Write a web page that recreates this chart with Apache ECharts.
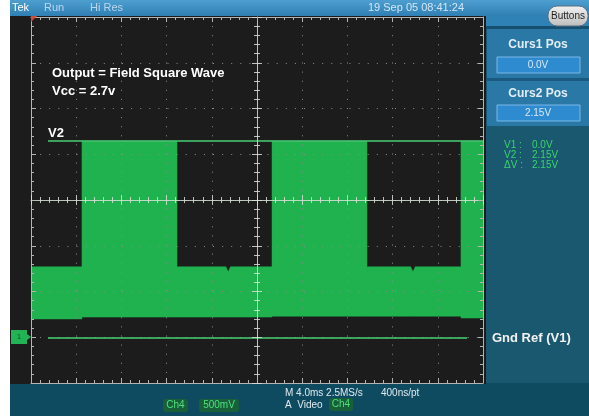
<!DOCTYPE html>
<html><head><meta charset="utf-8">
<script src="https://cdn.jsdelivr.net/npm/echarts@6/dist/echarts.min.js"></script>
<style>html,body{margin:0;padding:0;background:#fff;}#c{width:589px;height:417px;}</style>
</head><body><div id="c"></div>
<script>
// ---- data (time in ms, voltage in V) ----
const timeMs = [0, 4.51, 4.51, 12.92, 12.92, 17.25, 17.45, 17.65, 21.33, 21.33, 29.73, 29.73, 33.6, 33.8, 34.0, 38.05, 38.05, 40];
const upperV = [0.77, 0.77, 2.14, 2.14, 0.77, 0.77, 0.715, 0.77, 0.77, 2.14, 2.14, 0.77, 0.77, 0.715, 0.77, 0.77, 2.14, 2.14];
const lowerV = [0.20, 0.20, 0.22, 0.22, 0.22, 0.22, 0.22, 0.22, 0.22, 0.23, 0.23, 0.23, 0.23, 0.23, 0.23, 0.23, 0.21, 0.21];
const cursorNames = ['V1', 'V2'];
const cursorVolts = [0.0, 2.15];
const cursorStartMs = [1.5, 1.5];
const cursorEndMs = [38.6, 40];
const titleLines = ['Output = Field Square Wave', 'Vcc = 2.7v'];
const readoutLabels = ['V1 :', 'V2 :', '\u0394V :'];
const readoutValues = ['0.0V', '2.15V', '2.15V'];
const cursPosLabels = ['Curs1 Pos', 'Curs2 Pos'];
const cursPosValues = ['0.0V', '2.15V'];
const statusTop = ['Tek', 'Run', 'Hi Res'];
const dateText = '19 Sep 05 08:41:24';

const chart = echarts.init(document.getElementById('c'), null, {renderer: 'canvas'});
const GREEN = '#20b24f';
const EDGE = '#b4b4b4';
const CROSS = 'rgba(215,225,215,0.85)';
const DOT = '#8c8c8c';
const FONT = '"Liberation Sans", Arial, sans-serif';

function ax(dim, pos, offset, inside, lineShow, split, col) {
  const isX = dim === 'x';
  const c = col || EDGE;
  return {
    type: 'value', position: pos, offset: offset, z: 5,
    min: isX ? 0 : -0.5, max: isX ? 40 : 3.5, interval: isX ? 4 : 0.5,
    axisLabel: {show: false},
    axisLine: {show: lineShow, onZero: false, lineStyle: {color: c, width: 1, opacity: 1}},
    axisTick: {show: true, inside: inside, length: 5, lineStyle: {color: c, width: 1, opacity: 1}},
    minorTick: {show: true, splitNumber: 5, length: 3, lineStyle: {color: c, width: 1, opacity: 1}},
    splitLine: {show: split, lineStyle: {color: DOT, width: 1, type: [1, 8.1]}},
    minorSplitLine: {show: false},
    splitArea: {show: false}
  };
}

const T = (x, y, text, style) => ({type: 'text', x: x, y: y, z: 20, silent: true,
  style: Object.assign({text: text, font: '11px ' + FONT, fill: '#fff', textVerticalAlign: 'middle'}, style)});
const R = (x, y, w, h, fill, extra) => Object.assign({type: 'rect', z: -10, silent: true,
  shape: {x: x, y: y, width: w, height: h}, style: {fill: fill}}, extra || {});

const graphics = [
  R(10, 0, 579, 416, '#0f4b60'),
  R(485, 16, 104, 367, '#1a586f'),
  R(10, 0, 579, 16, {type: 'linear', x: 0, y: 0, x2: 0, y2: 1, colorStops: [{offset: 0, color: '#4e9fd0'}, {offset: 1, color: '#2f7fb4'}]}),
  R(485, 16, 104, 10, '#2f82b6'),
  R(485, 26, 104, 3, '#164f70'),
  R(487, 29, 102, 49, '#2a78a6'),
  R(487, 78, 102, 3, '#1a5a80'),
  R(487, 81, 102, 45, '#2a78a6'),
  R(10, 16, 476, 368, '#1c1c1c'),
  {type: 'rect', z: 15, silent: true, shape: {x: 548, y: 6, width: 40, height: 20, r: 9},
   style: {fill: {type: 'linear', x: 0, y: 0, x2: 0, y2: 1, colorStops: [{offset: 0, color: '#f2f2f2'}, {offset: 1, color: '#bcbcbc'}]}, stroke: '#5a6f80', lineWidth: 1}},
  T(568, 16, 'Buttons', {font: '10px ' + FONT, fill: '#1e1e1e', textAlign: 'center'}),
  T(12, 8, statusTop[0], {font: '11px ' + FONT, fill: '#ffffff'}),
  T(44, 8, statusTop[1], {font: '11px ' + FONT, fill: '#b9d6ee'}),
  T(90, 8, statusTop[2], {font: '11px ' + FONT, fill: '#b9d6ee'}),
  T(416, 8, dateText, {font: '11px ' + FONT, fill: '#d4e6f4', textAlign: 'center'}),
  T(538, 45, cursPosLabels[0], {font: 'bold 12px ' + FONT, fill: '#e3edf5', textAlign: 'center'}),
  {type: 'rect', z: 15, silent: true, shape: {x: 497, y: 57, width: 83, height: 16}, style: {fill: '#2f8bd0', stroke: '#7ab8e6', lineWidth: 1}},
  T(538, 65.5, cursPosValues[0], {font: '10px ' + FONT, fill: '#d8e8f6', textAlign: 'center'}),
  T(538, 94, cursPosLabels[1], {font: 'bold 12px ' + FONT, fill: '#e3edf5', textAlign: 'center'}),
  {type: 'rect', z: 15, silent: true, shape: {x: 497, y: 105, width: 83, height: 16}, style: {fill: '#2f8bd0', stroke: '#7ab8e6', lineWidth: 1}},
  T(538, 113.5, cursPosValues[1], {font: '10px ' + FONT, fill: '#d8e8f6', textAlign: 'center'}),
  ...readoutLabels.map((l, i) => T(504, 145 + i * 10, l, {font: '10px ' + FONT, fill: '#39d56a'})),
  ...readoutValues.map((v, i) => T(532, 145 + i * 10, v, {font: '10px ' + FONT, fill: '#39d56a'})),
  T(52, 73, titleLines[0], {font: 'bold 13px ' + FONT, fill: '#ffffff'}),
  T(52, 91, titleLines[1], {font: 'bold 13px ' + FONT, fill: '#ffffff'}),
  T(48, 133, cursorNames[1], {font: 'bold 13px ' + FONT, fill: '#ffffff'}),
  T(492, 338, 'Gnd Ref (V1)', {font: 'bold 13px ' + FONT, fill: '#f2f2f2'}),
  {type: 'rect', z: 15, silent: true, shape: {x: 11, y: 330, width: 16, height: 14}, style: {fill: '#22b454'}},
  T(19, 337, '1', {font: '8px ' + FONT, fill: '#0d5a2a', textAlign: 'center'}),
  {type: 'polygon', z: 15, silent: true, shape: {points: [[27, 334], [31, 337], [27, 340]]}, style: {fill: '#22b454'}},
  {type: 'polygon', z: 15, silent: true, shape: {points: [[31, 16], [37, 16], [31, 22]]}, style: {fill: '#d04a3a'}},
  {type: 'rect', z: 15, silent: true, shape: {x: 163, y: 399, width: 25, height: 13, r: 3}, style: {fill: '#17603a'}},
  T(175.5, 405.5, 'Ch4', {font: '10px ' + FONT, fill: '#4fe07c', textAlign: 'center'}),
  {type: 'rect', z: 15, silent: true, shape: {x: 199, y: 399, width: 40, height: 13, r: 3}, style: {fill: '#17603a'}},
  T(219, 405.5, '500mV', {font: '10px ' + FONT, fill: '#4fe07c', textAlign: 'center'}),
  T(285, 393, 'M 4.0ms 2.5MS/s', {font: '10px ' + FONT, fill: '#dfe9ef'}),
  T(381, 393, '400ns/pt', {font: '10px ' + FONT, fill: '#dfe9ef'}),
  T(285, 405, 'A  Video', {font: '10px ' + FONT, fill: '#dfe9ef'}),
  {type: 'rect', z: 15, silent: true, shape: {x: 329, y: 398, width: 24, height: 13, r: 3}, style: {fill: '#17603a'}},
  T(341, 404.5, 'Ch4', {font: '10px ' + FONT, fill: '#4fe07c', textAlign: 'center'})
];

function renderBand(params, api) {
  const pts = [];
  for (let i = 0; i < timeMs.length; i++) pts.push(api.coord([timeMs[i], upperV[i]]));
  for (let i = timeMs.length - 1; i >= 0; i--) pts.push(api.coord([timeMs[i], lowerV[i]]));
  return {type: 'polygon', shape: {points: pts}, style: {fill: GREEN, stroke: GREEN, lineWidth: 0.5}, silent: true};
}

chart.setOption({
  animation: false,
  backgroundColor: '#ffffff',
  grid: {left: 31, top: 17, width: 452, height: 366, show: false},
  xAxis: [
    ax('x', 'bottom', 0, true, true, true),
    ax('x', 'top', 0, true, true, false),
    ax('x', 'bottom', -183, true, true, false, CROSS),
    ax('x', 'bottom', -183, false, false, false, CROSS)
  ],
  yAxis: [
    ax('y', 'left', 0, true, true, true),
    ax('y', 'right', 0, true, true, false),
    ax('y', 'left', -226, true, true, false, CROSS),
    ax('y', 'left', -226, false, false, false, CROSS)
  ],
  graphic: graphics,
  series: [
    {type: 'custom', name: 'Ch4', renderItem: renderBand, data: [[timeMs[0], upperV[0]]],
     encode: {x: 0, y: 1}, clip: true, silent: true, z: 3},
    {type: 'line', name: 'cursors', data: [], silent: true, z: 4,
     markLine: {silent: true, symbol: 'none', label: {show: false},
       lineStyle: {color: '#48cf74', width: 1.5, type: 'solid'},
       data: cursorVolts.map((v, i) => [{coord: [cursorStartMs[i], v]}, {coord: [cursorEndMs[i], v]}])}}
  ]
});
</script></body></html>
